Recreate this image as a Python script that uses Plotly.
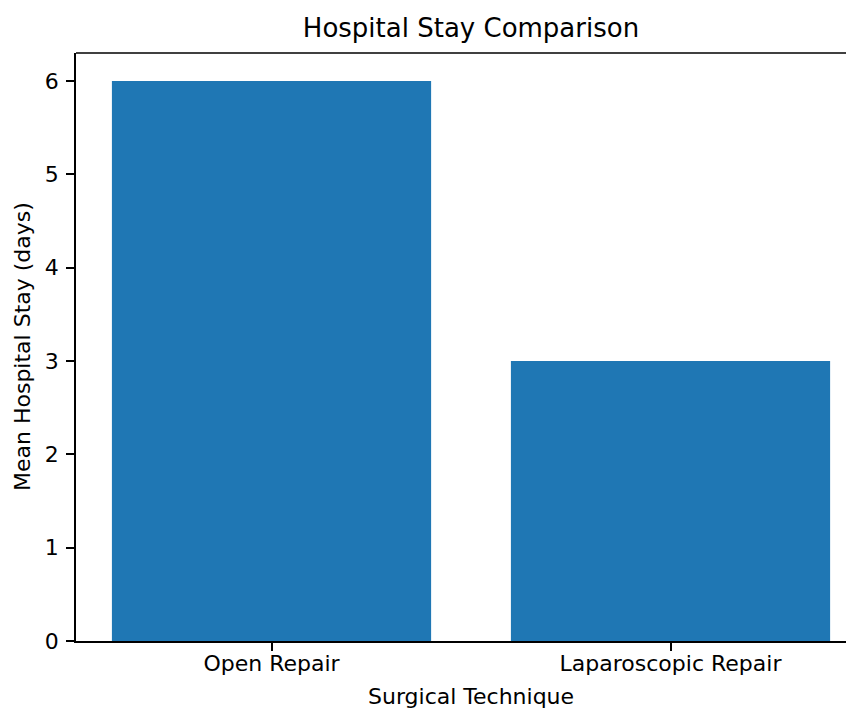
import plotly.graph_objects as go

categories = ["Open Repair", "Laparoscopic Repair"]
mean_stay_days = [6, 3]

title_text = "Hospital Stay Comparison"
x_label = "Surgical Technique"
y_label = "Mean Hospital Stay (days)"

# page body has an 8px margin, so figure coords = viewport coords - 8
OFF = 8
W, H = 854 - OFF, 708 - OFF
L, R, T = 76 - OFF, 0, 53 - OFF
B = H - (641 - OFF)
FONT = "DejaVu Sans"
LW = 1.7

# axis pixel geometry (matplotlib-like, right part cropped)
x_left_val = -0.49
px_per_unit = 399.0
x_right_val = x_left_val + (W - L - R) / px_per_unit
center_frac = (0.5 - x_left_val) / (x_right_val - x_left_val)
plot_h = H - T - B

fig = go.Figure()
fig.add_trace(go.Bar(
    x=[0, 1],
    y=mean_stay_days,
    width=0.8,
    marker=dict(color="#1f77b4", line=dict(width=0)),
))

fig.update_layout(
    width=W, height=H,
    margin=dict(l=L, r=R, t=T, b=B, pad=0),
    paper_bgcolor="white", plot_bgcolor="white",
    showlegend=False,
    font=dict(family=FONT, size=22, color="black"),
    title=dict(text=title_text, x=(L + center_frac * (W - L - R)) / W, xanchor="center",
               y=1 - (28 - OFF) / H, yanchor="middle", font=dict(size=26, family=FONT, color="black")),
    xaxis=dict(
        range=[x_left_val, x_right_val],
        tickmode="array", tickvals=[0, 1], ticktext=categories,
        showgrid=False, zeroline=False,
        showline=True, linecolor="black", linewidth=LW,
        ticks="outside", ticklen=8, tickwidth=LW, tickcolor="black",
        ticklabelstandoff=-6,
        tickfont=dict(size=22, family=FONT, color="black"),
    ),
    yaxis=dict(
        range=[0, 6.3],
        tickmode="linear", tick0=0, dtick=1,
        showgrid=False, zeroline=False,
        showline=True, linecolor="black", linewidth=LW,
        ticks="outside", ticklen=8, tickwidth=LW, tickcolor="black",
        ticklabelstandoff=3,
        tickfont=dict(size=22, family=FONT, color="black"),
    ),
    shapes=[dict(type="line", xref="paper", yref="paper", x0=0, x1=1, y0=1, y1=1,
                 line=dict(color="black", width=LW))],
    annotations=[
        dict(text=x_label, xref="paper", yref="paper", x=center_frac,
             y=-((696 - OFF) - (H - B)) / plot_h,
             xanchor="center", yanchor="middle", showarrow=False,
             font=dict(size=22, family=FONT, color="black")),
        dict(text=y_label, xref="paper", yref="paper", x=((22 - OFF) - L) / (W - L - R), y=0.5,
             xanchor="center", yanchor="middle", textangle=-90, showarrow=False,
             font=dict(size=22, family=FONT, color="black")),
    ],
)

fig.write_html("out.html")
